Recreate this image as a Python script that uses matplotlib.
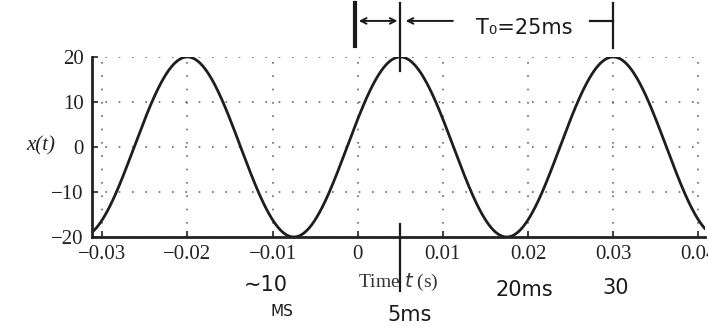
import numpy as np
import matplotlib
matplotlib.use("Agg")
import matplotlib.pyplot as plt

# Values
amplitude = 20.0          # peak value of x(t)
period = 0.025            # T0 = 25 ms
peak_time = 0.005         # a peak at t = 5 ms
t_start, t_end = -0.0312, 0.0408
x_ticks = [-0.03, -0.02, -0.01, 0, 0.01, 0.02, 0.03, 0.04]
x_tick_labels = ["\u22120.03", "\u22120.02", "\u22120.01", "0", "0.01", "0.02", "0.03", "0.04"]
y_ticks = [-20, -10, 0, 10, 20]
y_tick_labels = ["\u221220", "\u221210", "0", "10", "20"]

t = np.linspace(t_start, t_end, 2000)
x = amplitude * np.cos(2 * np.pi * (t - peak_time) / period)

plt.rcParams['font.family'] = ['Liberation Serif', 'DejaVu Serif']
fig = plt.figure(figsize=(7.08, 3.31), dpi=100)
ax = fig.add_axes([0.130, 0.284, 0.866, 0.544])
ax.plot(t, x, color="#1e1e1e", lw=2.0, solid_capstyle="round")
ax.set_xlim(t_start, t_end)
ax.set_ylim(-20, 20)
ax.set_xticks(x_ticks)
ax.set_xticklabels(x_tick_labels, fontsize=15)
ax.set_yticks(y_ticks)
ax.set_yticklabels(y_tick_labels, fontsize=15)
ax.tick_params(direction="in", length=4, width=1.2, color="#222222", labelcolor="#222222", pad=6)
ax.grid(True, color="#666666", linestyle=(0, (1, 7)), lw=1.2)
for s in ("top", "right"):
    ax.spines[s].set_visible(False)
for s in ("left", "bottom"):
    ax.spines[s].set_linewidth(2.0)
    ax.spines[s].set_color("#222222")

fig.text(0.058, 0.559, "x(t)", fontsize=15, style="italic", ha="center", va="center", color="#222222")
fig.text(0.562, 0.148, "Time $\\it{t}$ (s)", fontsize=14, ha="center", va="center", color="#333333")

# Handwritten annotations (rendered as text)
hw = dict(fontsize=15, color="#1a1a1a", family=['DejaVu Sans'], ha="center", va="center")
fig.text(0.740, 0.915, "T\u2080=25ms", **hw)
fig.text(0.375, 0.138, "\u223c10", **hw)
fig.text(0.398, 0.060, "MS", fontsize=11, color="#1a1a1a", family=['DejaVu Sans'], ha="center", va="center")
fig.text(0.578, 0.048, "5ms", **hw)
fig.text(0.740, 0.125, "20ms", **hw)
fig.text(0.870, 0.130, "30", **hw)

# Handwritten marks in axes coordinates
trans = ax.get_xaxis_transform()
ink = dict(color="#1a1a1a", lw=1.6, transform=trans, clip_on=False)
ax.plot([peak_time, peak_time], [0.92, 1.07], **ink)
ax.plot([peak_time, peak_time], [0.07, -0.30], **ink)
ax.plot([-0.0003, -0.0003], [1.06, 1.30], color="#1a1a1a", lw=3, transform=trans, clip_on=False)
ax.plot([peak_time + period, peak_time + period], [1.05, 1.30], **ink)
ax.annotate("", xy=(-0.0002, 1.20), xytext=(peak_time, 1.20), xycoords=trans, textcoords=trans,
            arrowprops=dict(arrowstyle="<->", color="#1a1a1a", lw=1.4))
ax.plot([peak_time, peak_time], [1.08, 1.30], **ink)
ax.annotate("", xy=(peak_time + 0.0003, 1.20), xytext=(peak_time + 0.0065, 1.20), xycoords=trans, textcoords=trans,
            arrowprops=dict(arrowstyle="->", color="#1a1a1a", lw=1.4))
ax.plot([peak_time + 0.0223, peak_time + period], [1.20, 1.20], **ink)

fig.savefig("out.png", dpi=100)
